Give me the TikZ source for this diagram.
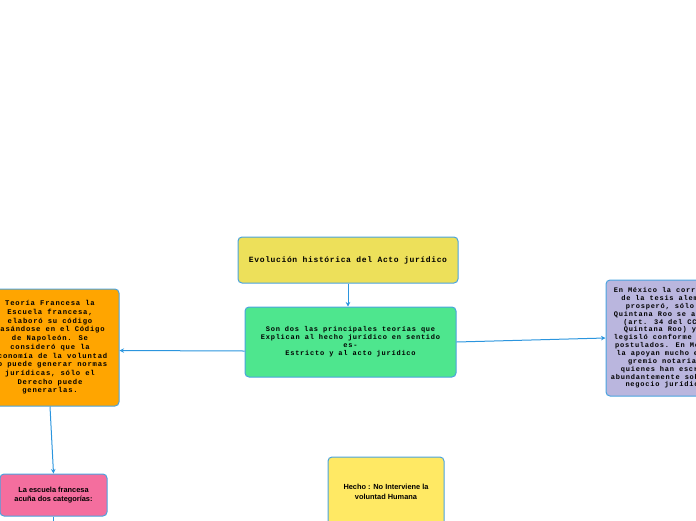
\documentclass[tikz,border=0pt]{standalone}
\usepackage{fontspec}
\setmainfont{Liberation Sans}
\newfontfamily\spmono[LetterSpace=11]{Liberation Mono}
\newfontfamily\ttlmono[LetterSpace=8]{Liberation Mono}
\usetikzlibrary{arrows.meta}
\definecolor{bordc}{HTML}{4AA3DF}
\definecolor{arrc}{HTML}{2B95DE}
\definecolor{ttlc}{HTML}{EDE05A}
\definecolor{grnc}{HTML}{4EE68E}
\definecolor{orgc}{HTML}{FFA500}
\definecolor{prpc}{HTML}{BAB6DE}
\definecolor{pnkc}{HTML}{F46E9E}
\definecolor{ylwc}{HTML}{FFE964}
\tikzset{
  boxnode/.style={draw=bordc, line width=1pt, rounded corners=4pt, align=center, inner sep=2pt},
  sanstext/.style={font=\bfseries\fontsize{7.4}{9.5}\selectfont},
  conn/.style={draw=arrc, line width=1pt, -{Stealth[length=4.5pt,width=4.5pt]}},
  plainconn/.style={draw=arrc, line width=1pt}
}
\begin{document}
\begin{tikzpicture}[x=1pt,y=-1pt]
\useasboundingbox (0,0) rectangle (696,520);
\clip (0,0) rectangle (696,520);
\node[boxnode, fill=ttlc, minimum width=220pt, minimum height=46pt, font=\ttlmono\bfseries\fontsize{8}{10}\selectfont] (title) at (348,260) {Evolución histórica del Acto jurídico};
\node[boxnode, fill=grnc, minimum width=211pt, minimum height=70pt, font=\spmono\bfseries\fontsize{7}{8.1}\selectfont] (green) at (350.5,342) {Son dos las principales teorías que\\Explican al hecho jurídico en sentido\\es-\\Estricto y al acto jurídico};
\node[boxnode, fill=orgc, minimum width=138pt, minimum height=117pt, font=\spmono\bfseries\fontsize{7.2}{8.7}\selectfont] (orange) at (50,347.5) {Teoría Francesa la\\Escuela francesa,\\elaboró su código\\basándose en el Código\\de Napoleón. Se\\consideró que la\\economía de la voluntad\\no puede generar normas\\jurídicas, sólo el\\Derecho puede\\generarlas.};
\node[boxnode, fill=prpc, minimum width=122pt, minimum height=116pt, font=\spmono\bfseries\fontsize{7}{7.85}\selectfont] (purple) at (667,338) {En México la corriente\\de la tesis alemana\\prosperó, sólo en\\Quintana Roo se adoptó\\(art. 34 del CC de\\Quintana Roo) y se\\legisló conforme a sus\\postulados. En México\\la apoyan mucho en el\\gremio notarial,\\quienes han escrito\\abundantemente sobre el\\negocio jurídico.};
\node[boxnode, fill=pnkc, minimum width=107pt, minimum height=42pt, sanstext] (pink) at (53.5,495) {La escuela francesa\\acuña dos categorías:};
\node[boxnode, fill=ylwc, minimum width=116pt, minimum height=70pt, sanstext] (hecho) at (386,492) {Hecho : No Interviene la\\voluntad Humana};
\coordinate (below) at (53.5,530);
\draw[conn] (title.south) -- (title.south |- green.north);
\draw[conn] ([yshift=-9pt]green.west) -- ([yshift=-3pt]orange.east);
\draw[conn] (green.east) -- (purple.west);
\draw[conn] (orange.south) -- (pink.north);
\draw[plainconn] (pink.south) -- (below);
\end{tikzpicture}
\end{document}
